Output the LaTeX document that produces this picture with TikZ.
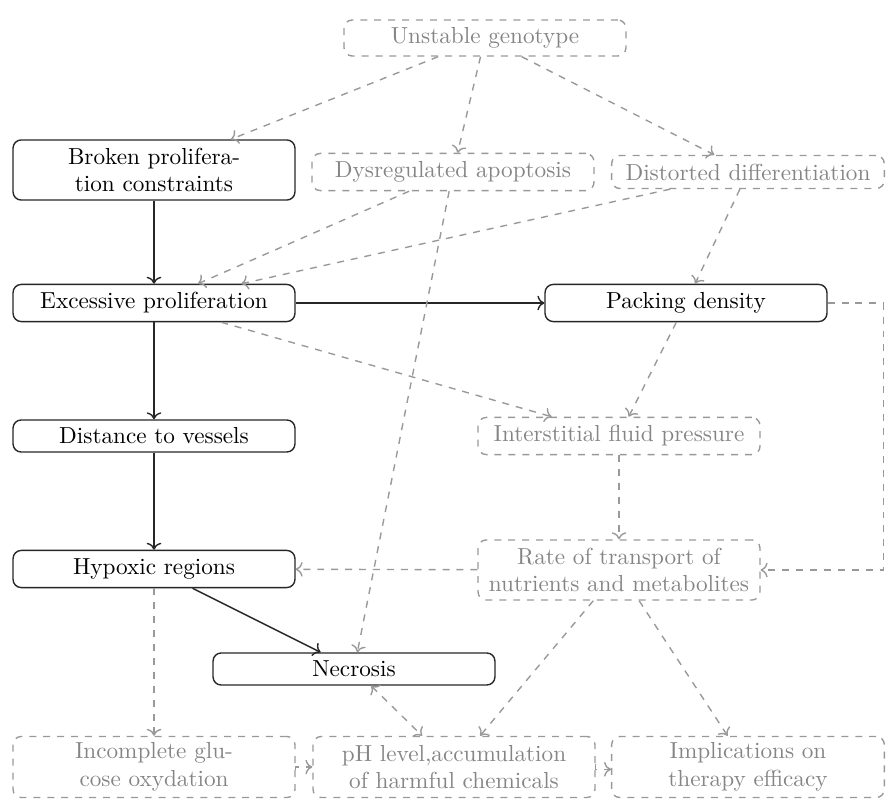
\documentclass[tikz,border=0pt]{standalone}
\usetikzlibrary{arrows.meta}
\definecolor{dg}{gray}{0.6}
\definecolor{dtext}{gray}{0.52}
\begin{document}
\begin{tikzpicture}[x=0.431pt,y=-0.431pt,
 box/.style={draw=black!85, line width=0.6pt, rounded corners=3.5pt, minimum width=121.5pt, minimum height=16pt, inner sep=1pt, align=center, text=black},
 dbox/.style={box, draw=dg, dashed, text=dtext},
 flow/.style={draw=black!85, line width=0.6pt, -{To[length=3pt]}},
 dep/.style={draw=dg, line width=0.6pt, dashed, -{To[length=3pt]}}]
\useasboundingbox (0,0) rectangle (887,801);
\node[dbox, minimum height=15.5pt] (ug) at (485,38) {Unstable genotype};
\node[box, minimum height=25.9pt] (bp) at (154,170) {Broken prolifera-\\tion constraints};
\node[dbox] (da) at (453,172) {Dysregulated apoptosis};
\node[dbox, minimum width=117.5pt, minimum height=14.2pt] (dd) at (748,172) {Distorted differentiation};
\node[box] (ep) at (154,303) {Excessive proliferation};
\node[box] (pd) at (686,303) {Packing density};
\node[box, minimum height=13.8pt] (dv) at (154,436) {Distance to vessels};
\node[dbox] (ifp) at (619,436) {Interstitial fluid pressure};
\node[box] (hr) at (154,569) {Hypoxic regions};
\node[dbox, minimum height=25.9pt] (rt) at (619,570) {Rate of transport of\\nutrients and metabolites};
\node[box, minimum height=13.8pt] (nc) at (354,669) {Necrosis};
\node[dbox, minimum height=26.3pt] (ig) at (154,767) {Incomplete glu-\\cose oxydation};
\node[dbox, minimum height=26.3pt] (ph) at (454,767) {pH level,accumulation\\of harmful chemicals};
\node[dbox, minimum width=117.5pt, minimum height=26.3pt] (im) at (748,767) {Implications on\\therapy efficacy};
% solid
\draw[flow] (bp) -- (ep);
\draw[flow] (ep) -- (pd);
\draw[flow] (ep) -- (dv);
\draw[flow] (dv) -- (hr);
\draw[flow] (hr) -- (nc);
% dashed
\draw[dep] (ug) -- (bp);
\draw[dep] (ug) -- (da);
\draw[dep] (ug) -- (dd);
\draw[dep] (da) -- (ep);
\draw[dep] (dd) -- (ep);
\draw[dep] (dd) -- (pd);
\draw[dep] (da) -- (nc);
\draw[dep] (ep) -- (ifp);
\draw[dep] (pd) -- (ifp);
\draw[dep] (pd.east) -- ++(56,0) coordinate (pc) |- (rt.east);
\draw[dep] (ifp) -- (rt);
\draw[dep] (rt) -- (hr);
\draw[dep] (hr) -- (ig);
\draw[dep] (rt) -- (ph);
\draw[dep] (rt) -- (im);
\draw[dep, {To[length=3pt]}-{To[length=3pt]}] (nc) -- (ph);
\draw[dep] ([yshift=-1.5pt]ig.east) |- (ph.west);
\draw[dep] ([yshift=1.5pt]ph.east) |- ([yshift=-1pt]im.west);
\end{tikzpicture}
\end{document}
